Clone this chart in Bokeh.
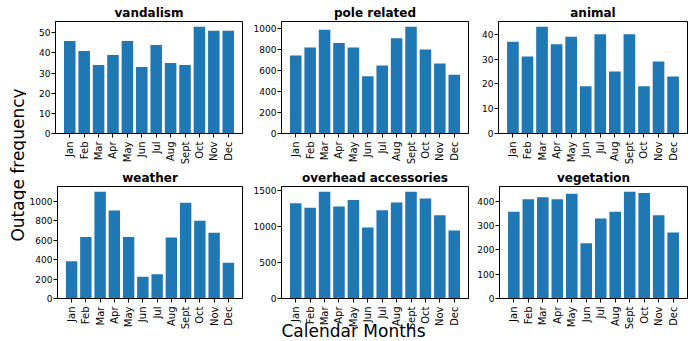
import numpy as np
from bokeh.plotting import figure
from bokeh.models import Range1d, FixedTicker, Label, Title
from bokeh.layouts import row, column
from bokeh.embed import file_html
from bokeh.resources import INLINE

# ---------------- data ----------------
months = ["Jan", "Feb", "Mar", "Apr", "May", "Jun", "Jul", "Aug", "Sept", "Oct", "Nov", "Dec"]
vandalism = [46, 41, 34, 39, 46, 33, 44, 35, 34, 53, 51, 51]
pole_related = [743, 819, 990, 863, 819, 546, 648, 908, 1017, 800, 667, 559]
animal = [37, 31, 43, 36, 39, 19, 40, 25, 40, 19, 29, 23]
weather = [384, 634, 1098, 907, 634, 223, 250, 627, 986, 801, 678, 367]
overhead_accessories = [1324, 1260, 1481, 1278, 1367, 987, 1226, 1333, 1481, 1389, 1157, 945]
vegetation = [356, 408, 416, 408, 430, 227, 329, 356, 438, 433, 342, 271]
titles = ["vandalism", "pole related", "animal", "weather", "overhead accessories", "vegetation"]
series = [vandalism, pole_related, animal, weather, overhead_accessories, vegetation]
tick_steps = [10, 200, 10, 200, 500, 100]
y_label = "Outage frequency"
x_label = "Calendar Months"

FONT = "DejaVu Sans"
BLUE = "#1f77b4"

# column geometry: (fig width, left border, right border)
cols = [(224, 29, 8), (224, 29, 6), (218, 24, 5)]
# row geometry: (fig height, top border, bottom border)
rows_geo = [(167, 21, 34), (173, 19, 42)]


def panel(title, vals, step, cg, rg):
    n = len(vals)
    xs = list(range(n))
    pad = 0.4 + 0.05 * (n - 1 + 0.8)
    ymax = max(vals) * 1.05
    p = figure(width=cg[0], height=rg[0], output_backend="svg", toolbar_location=None,
               x_range=Range1d(-pad, n - 1 + pad), y_range=Range1d(0, ymax),
               min_border_left=cg[1], min_border_right=cg[2],
               min_border_top=rg[1], min_border_bottom=rg[2])
    p.vbar(x=xs, top=vals, width=0.8, fill_color=BLUE, line_color=None)
    p.title.text = title
    p.title.align = "center"
    p.title.text_font = FONT
    p.title.text_font_size = "12px"
    p.title.text_font_style = "bold"
    p.title.text_color = "black"
    p.title.standoff = 3
    p.xgrid.visible = False
    p.ygrid.visible = False
    p.outline_line_color = "black"
    p.outline_line_alpha = 1
    p.outline_line_width = 1
    p.xaxis.ticker = FixedTicker(ticks=xs)
    p.xaxis.major_label_overrides = {i: m for i, m in enumerate(months)}
    p.xaxis.major_label_orientation = np.pi / 2
    p.yaxis.ticker = FixedTicker(ticks=list(range(0, int(ymax) + 1, step)))
    for ax in (p.xaxis[0], p.yaxis[0]):
        ax.axis_line_color = "black"
        ax.major_tick_line_color = "black"
        ax.major_tick_out = 4
        ax.major_tick_in = 0
        ax.minor_tick_line_color = None
        ax.major_label_text_font = FONT
        ax.major_label_text_color = "black"
    p.xaxis.major_label_text_font_size = "10px"
    p.yaxis.major_label_text_font_size = "9px"
    p.xaxis.major_label_standoff = 4
    p.yaxis.major_label_standoff = 1
    return p


figs = []
for i, (t, v, s) in enumerate(zip(titles, series, tick_steps)):
    figs.append(panel(t, v, s, cols[i % 3], rows_geo[i // 3]))

# shared x label, as a title below the bottom-middle panel
figs[4].add_layout(Title(text=x_label, align="left", vertical_align="top", offset=0,
                         standoff=-24, text_font=FONT, text_font_size="17px",
                         text_font_style="normal", text_color="black"), "below")

# shared y label strip
strip = figure(width=26, height=340, output_backend="svg", toolbar_location=None,
               x_axis_location=None, y_axis_location=None, min_border=0,
               x_range=Range1d(0, 1), y_range=Range1d(0, 1))
strip.outline_line_color = None
strip.xgrid.visible = False
strip.ygrid.visible = False
strip.add_layout(Label(x=17, y=175.5, x_units="screen", y_units="screen", text=y_label,
                       angle=np.pi / 2, text_align="center", text_baseline="alphabetic",
                       text_font=FONT, text_font_size="17px", text_color="black"))

layout = row(strip, column(row(*figs[:3]), row(*figs[3:])))

open("out.html", "w").write(file_html(layout, INLINE))
